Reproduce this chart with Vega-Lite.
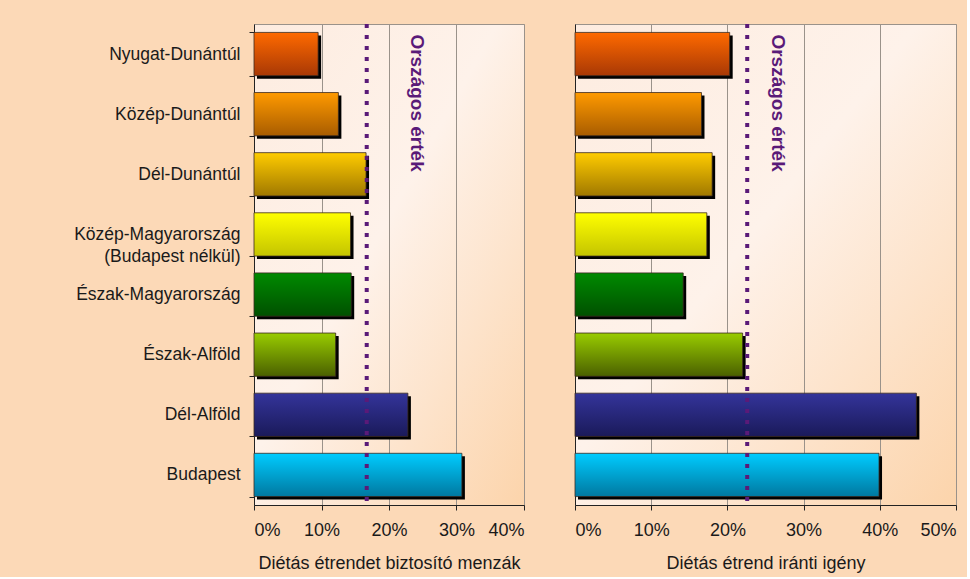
{
  "$schema": "https://vega.github.io/schema/vega-lite/v6.json",
  "background": "#fcd9b7",
  "padding": {"left": 12, "top": 14, "right": 10, "bottom": 4},
  "spacing": 49,
  "datasets": {
    "regions": [
      {"region": "Nyugat-Dunántúl", "menza": 0.095, "igeny": 0.203},
      {"region": "Közép-Dunántúl", "menza": 0.125, "igeny": 0.166},
      {"region": "Dél-Dunántúl", "menza": 0.166, "igeny": 0.180},
      {"region": "Közép-Magyarország (Budapest nélkül)", "menza": 0.143, "igeny": 0.173},
      {"region": "Észak-Magyarország", "menza": 0.144, "igeny": 0.142},
      {"region": "Észak-Alföld", "menza": 0.121, "igeny": 0.220},
      {"region": "Dél-Alföld", "menza": 0.228, "igeny": 0.448},
      {"region": "Budapest", "menza": 0.308, "igeny": 0.399}
    ],
    "national": [
      {"label": "Országos érték", "menza": 0.167, "igeny": 0.226}
    ]
  },
  "hconcat": [
    {
      "width": 270,
      "height": 481,
      "layer": [
        {
          "data": {"name": "regions"},
          "mark": {"type": "bar", "color": "#000000", "xOffset": 3, "x2Offset": 3, "yOffset": 3, "y2Offset": 3},
          "encoding": {
            "y": {
              "field": "region", "type": "nominal", "sort": null,
              "scale": {"paddingInner": 0.28, "paddingOuter": 0.14},
              "axis": {
                "title": null,
                "tickBand": "extent",
                "tickSize": 5,
                "labelPadding": 9,
                "minExtent": 241,
                "maxExtent": 241,
                "labelFontSize": 17.5,
                "labelLineHeight": 22,
                "labelExpr": "datum.value == 'Közép-Magyarország (Budapest nélkül)' ? ['Közép-Magyarország', '(Budapest nélkül)'] : datum.label"
              }
            },
            "x": {"field": "menza", "type": "quantitative", "scale": {"domain": [0, 0.4]},
              "axis": {"title": "Diétás étrendet biztosító menzák", "format": ".0%", "values": [0, 0.1, 0.2, 0.3, 0.4]}}
          }
        },
        {
          "data": {"name": "regions"},
          "mark": {"type": "bar", "stroke": "#3a2a20", "strokeWidth": 0.8},
          "encoding": {
            "y": {"field": "region", "type": "nominal", "sort": null},
            "x": {"field": "menza", "type": "quantitative"},
            "fill": {
              "condition": [
                {"test": "datum.region === 'Nyugat-Dunántúl'", "value": {"gradient": "linear", "x1": 0, "y1": 0, "x2": 0, "y2": 1, "stops": [{"offset": 0, "color": "#ff6a00"}, {"offset": 1, "color": "#a83805"}]}},
                {"test": "datum.region === 'Közép-Dunántúl'", "value": {"gradient": "linear", "x1": 0, "y1": 0, "x2": 0, "y2": 1, "stops": [{"offset": 0, "color": "#ff9a00"}, {"offset": 1, "color": "#a85c00"}]}},
                {"test": "datum.region === 'Dél-Dunántúl'", "value": {"gradient": "linear", "x1": 0, "y1": 0, "x2": 0, "y2": 1, "stops": [{"offset": 0, "color": "#ffcc00"}, {"offset": 1, "color": "#a07800"}]}},
                {"test": "datum.region === 'Közép-Magyarország (Budapest nélkül)'", "value": {"gradient": "linear", "x1": 0, "y1": 0, "x2": 0, "y2": 1, "stops": [{"offset": 0, "color": "#ffff00"}, {"offset": 1, "color": "#c4c400"}]}},
                {"test": "datum.region === 'Észak-Magyarország'", "value": {"gradient": "linear", "x1": 0, "y1": 0, "x2": 0, "y2": 1, "stops": [{"offset": 0, "color": "#008a00"}, {"offset": 1, "color": "#005000"}]}},
                {"test": "datum.region === 'Észak-Alföld'", "value": {"gradient": "linear", "x1": 0, "y1": 0, "x2": 0, "y2": 1, "stops": [{"offset": 0, "color": "#99cc00"}, {"offset": 1, "color": "#4a6000"}]}},
                {"test": "datum.region === 'Dél-Alföld'", "value": {"gradient": "linear", "x1": 0, "y1": 0, "x2": 0, "y2": 1, "stops": [{"offset": 0, "color": "#34349a"}, {"offset": 1, "color": "#1a1a5a"}]}}
              ],
              "value": {"gradient": "linear", "x1": 0, "y1": 0, "x2": 0, "y2": 1, "stops": [{"offset": 0, "color": "#00ccff"}, {"offset": 1, "color": "#0078a0"}]}
            }
          }
        },
        {
          "data": {"name": "national"},
          "mark": {"type": "rule", "color": "#5a1a78", "strokeWidth": 4, "strokeDash": [4, 7]},
          "encoding": {"x": {"field": "menza", "type": "quantitative"}}
        },
        {
          "data": {"name": "national"},
          "mark": {"type": "text", "angle": 90, "align": "left", "baseline": "middle", "fontWeight": "bold", "fontSize": 19, "color": "#5a1a78", "xOffset": 50, "yOffset": 2},
          "encoding": {
            "x": {"field": "menza", "type": "quantitative"},
            "y": {"datum": "Nyugat-Dunántúl", "type": "nominal", "bandPosition": 0},
            "text": {"field": "label"}
          }
        }
      ]
    },
    {
      "width": 381,
      "height": 481,
      "layer": [
        {
          "data": {"name": "regions"},
          "mark": {"type": "bar", "color": "#000000", "xOffset": 3, "x2Offset": 3, "yOffset": 3, "y2Offset": 3},
          "encoding": {
            "y": {
              "field": "region", "type": "nominal", "sort": null,
              "scale": {"paddingInner": 0.28, "paddingOuter": 0.14},
              "axis": {"title": null, "labels": false, "ticks": false}
            },
            "x": {"field": "igeny", "type": "quantitative", "scale": {"domain": [0, 0.5]},
              "axis": {"title": "Diétás étrend iránti igény", "format": ".0%", "values": [0, 0.1, 0.2, 0.3, 0.4, 0.5]}}
          }
        },
        {
          "data": {"name": "regions"},
          "mark": {"type": "bar", "stroke": "#3a2a20", "strokeWidth": 0.8},
          "encoding": {
            "y": {"field": "region", "type": "nominal", "sort": null},
            "x": {"field": "igeny", "type": "quantitative"},
            "fill": {
              "condition": [
                {"test": "datum.region === 'Nyugat-Dunántúl'", "value": {"gradient": "linear", "x1": 0, "y1": 0, "x2": 0, "y2": 1, "stops": [{"offset": 0, "color": "#ff6a00"}, {"offset": 1, "color": "#a83805"}]}},
                {"test": "datum.region === 'Közép-Dunántúl'", "value": {"gradient": "linear", "x1": 0, "y1": 0, "x2": 0, "y2": 1, "stops": [{"offset": 0, "color": "#ff9a00"}, {"offset": 1, "color": "#a85c00"}]}},
                {"test": "datum.region === 'Dél-Dunántúl'", "value": {"gradient": "linear", "x1": 0, "y1": 0, "x2": 0, "y2": 1, "stops": [{"offset": 0, "color": "#ffcc00"}, {"offset": 1, "color": "#a07800"}]}},
                {"test": "datum.region === 'Közép-Magyarország (Budapest nélkül)'", "value": {"gradient": "linear", "x1": 0, "y1": 0, "x2": 0, "y2": 1, "stops": [{"offset": 0, "color": "#ffff00"}, {"offset": 1, "color": "#c4c400"}]}},
                {"test": "datum.region === 'Észak-Magyarország'", "value": {"gradient": "linear", "x1": 0, "y1": 0, "x2": 0, "y2": 1, "stops": [{"offset": 0, "color": "#008a00"}, {"offset": 1, "color": "#005000"}]}},
                {"test": "datum.region === 'Észak-Alföld'", "value": {"gradient": "linear", "x1": 0, "y1": 0, "x2": 0, "y2": 1, "stops": [{"offset": 0, "color": "#99cc00"}, {"offset": 1, "color": "#4a6000"}]}},
                {"test": "datum.region === 'Dél-Alföld'", "value": {"gradient": "linear", "x1": 0, "y1": 0, "x2": 0, "y2": 1, "stops": [{"offset": 0, "color": "#34349a"}, {"offset": 1, "color": "#1a1a5a"}]}}
              ],
              "value": {"gradient": "linear", "x1": 0, "y1": 0, "x2": 0, "y2": 1, "stops": [{"offset": 0, "color": "#00ccff"}, {"offset": 1, "color": "#0078a0"}]}
            }
          }
        },
        {
          "data": {"name": "national"},
          "mark": {"type": "rule", "color": "#5a1a78", "strokeWidth": 4, "strokeDash": [4, 7]},
          "encoding": {"x": {"field": "igeny", "type": "quantitative"}}
        },
        {
          "data": {"name": "national"},
          "mark": {"type": "text", "angle": 90, "align": "left", "baseline": "middle", "fontWeight": "bold", "fontSize": 19, "color": "#5a1a78", "xOffset": 31, "yOffset": 2},
          "encoding": {
            "x": {"field": "igeny", "type": "quantitative"},
            "y": {"datum": "Nyugat-Dunántúl", "type": "nominal", "bandPosition": 0},
            "text": {"field": "label"}
          }
        }
      ]
    }
  ],
  "config": {
    "font": "Liberation Sans",
    "view": {
      "stroke": "#9a928a",
      "fill": {"gradient": "linear", "x1": 0, "y1": 0, "x2": 1, "y2": 1, "stops": [{"offset": 0, "color": "#fdece0"}, {"offset": 0.45, "color": "#fef2ea"}, {"offset": 1, "color": "#fcd4ab"}]}
    },
    "axis": {
      "labelFont": "Liberation Sans",
      "labelFontSize": 18,
      "labelColor": "#1a1a1a",
      "titleFont": "Liberation Sans",
      "titleFontSize": 18,
      "titleFontWeight": "normal",
      "titleColor": "#1a1a1a",
      "domainColor": "#222222",
      "tickColor": "#222222"
    },
    "axisX": {
      "grid": true,
      "gridColor": "#9a928a",
      "gridOpacity": 1,
      "tickSize": 5,
      "labelPadding": 11,
      "titlePadding": 15
    },
    "axisY": {"grid": false}
  }
}
